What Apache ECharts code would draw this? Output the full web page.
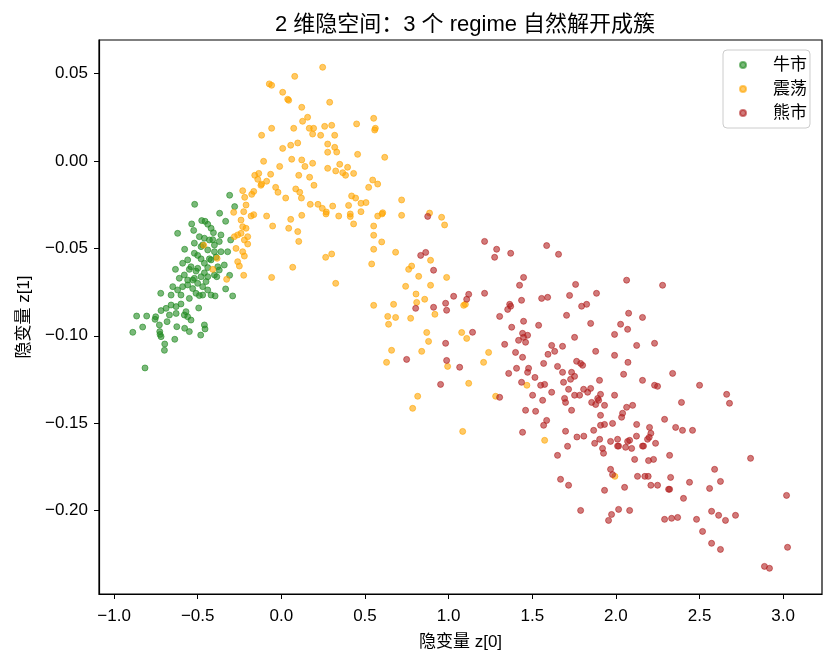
<!DOCTYPE html>
<html>
<head>
<meta charset="utf-8">
<script src="https://cdn.jsdelivr.net/npm/echarts@6/dist/echarts.min.js"></script>
<style>
html,body{margin:0;padding:0;background:#fff;}
#chart{width:834px;height:662px;}
</style>
</head>
<body>
<div id="chart"></div>
<script>
// ---- data ----
const seriesNames = ['牛市', '震荡', '熊市'];

const bullPoints = [
[-0.309,-0.0196],[-0.518,-0.0248],[-0.279,-0.0261],[-0.369,-0.0299],[-0.476,-0.0341],[-0.456,-0.0345],[-0.440,-0.0362],[-0.536,-0.0360],
[-0.524,-0.0397],[-0.420,-0.0385],[-0.406,-0.0410],[-0.333,-0.0345],[-0.620,-0.0414],[-0.361,-0.0423],[-0.303,-0.0452],[-0.490,-0.0433],
[-0.460,-0.0442],[-0.430,-0.0452],[-0.400,-0.0481],[-0.371,-0.0461],[-0.578,-0.0505],[-0.520,-0.0528],[-0.480,-0.0490],[-0.440,-0.0509],
[-0.400,-0.0519],[-0.361,-0.0519],[-0.321,-0.0519],[-0.590,-0.0585],[-0.560,-0.0566],[-0.540,-0.0605],[-0.500,-0.0614],[-0.460,-0.0585],
[-0.420,-0.0566],[-0.380,-0.0605],[-0.341,-0.0595],[-0.633,-0.0620],[-0.610,-0.0671],[-0.580,-0.0652],[-0.560,-0.0681],[-0.520,-0.0671],
[-0.480,-0.0662],[-0.440,-0.0662],[-0.400,-0.0652],[-0.371,-0.0624],[-0.386,-0.0662],[-0.309,-0.0654],[-0.649,-0.0719],[-0.620,-0.0738],
[-0.590,-0.0719],[-0.560,-0.0709],[-0.530,-0.0681],[-0.500,-0.0700],[-0.470,-0.0719],[-0.440,-0.0738],[-0.721,-0.0757],[-0.659,-0.0767],
[-0.600,-0.0767],[-0.550,-0.0786],[-0.510,-0.0757],[-0.470,-0.0767],[-0.420,-0.0767],[-0.396,-0.0772],[-0.291,-0.0772],[-0.333,-0.0732],
[-0.689,-0.0843],[-0.659,-0.0824],[-0.629,-0.0833],[-0.600,-0.0818],[-0.570,-0.0862],[-0.540,-0.0910],[-0.494,-0.0841],[-0.719,-0.0856],
[-0.669,-0.0881],[-0.629,-0.0872],[-0.580,-0.0881],[-0.560,-0.0891],[-0.865,-0.0887],[-0.805,-0.0887],[-0.751,-0.0891],[-0.755,-0.0906],
[-0.829,-0.0950],[-0.729,-0.0938],[-0.683,-0.0919],[-0.625,-0.0948],[-0.578,-0.0957],[-0.550,-0.0976],[-0.460,-0.0938],[-0.456,-0.0961],
[-0.482,-0.0996],[-0.888,-0.0980],[-0.727,-0.0976],[-0.725,-0.0992],[-0.719,-0.1005],[-0.637,-0.1020],[-0.697,-0.1047],[-0.699,-0.1083],
[-0.815,-0.1184],[-0.470,-0.0480],[-0.430,-0.0560],[-0.510,-0.0630],[-0.450,-0.0690],[-0.530,-0.0730],[-0.490,-0.0770],[-0.410,-0.0450],
[-0.550,-0.0620],[-0.440,-0.0610],[-0.480,-0.0560],[-0.520,-0.0470],[-0.390,-0.0550],[-0.500,-0.0540],[-0.460,-0.0640]
];

const rangePoints = [
[0.247,0.0536],[0.080,0.0484],[-0.072,0.0441],[-0.058,0.0433],[0.008,0.0393],[0.038,0.0353],[0.044,0.0347],[0.122,0.0307],[0.289,0.0336],
[0.157,0.0250],[0.127,0.0227],[-0.058,0.0187],[0.074,0.0187],[0.167,0.0187],[0.193,0.0187],[0.187,0.0154],[0.235,0.0147],[0.259,0.0198],
[0.301,0.0204],[0.319,0.0147],[0.450,0.0212],[0.552,0.0244],[0.562,0.0187],[0.558,0.0177],[-0.118,0.0147],[0.008,0.0072],[0.056,0.0090],
[0.098,0.0103],[0.277,0.0097],[0.319,0.0078],[0.331,0.0051],[0.277,0.0050],[0.456,0.0038],[0.618,0.0021],[-0.106,-0.0002],[0.062,0.0010],
[0.122,0.0006],[0.187,-0.0013],[0.141,-0.0031],[-0.010,-0.0031],[0.277,-0.0042],[0.349,-0.0019],[0.325,-0.0057],[0.367,-0.0067],
[0.384,-0.0082],[0.396,-0.0036],[0.432,-0.0071],[-0.135,-0.0071],[-0.159,-0.0082],[-0.141,-0.0105],[-0.064,-0.0076],[0.104,-0.0082],
[0.169,-0.0093],[-0.118,-0.0132],[-0.122,-0.0139],[-0.088,-0.0116],[0.195,-0.0139],[-0.034,-0.0151],[-0.020,-0.0179],[0.086,-0.0160],
[0.110,-0.0179],[0.546,-0.0109],[0.576,-0.0132],[0.522,-0.0151],[-0.231,-0.0170],[-0.165,-0.0174],[-0.177,-0.0191],[-0.219,-0.0208],
[0.026,-0.0212],[0.120,-0.0212],[0.420,-0.0200],[0.444,-0.0212],
[-0.211,-0.0252],[-0.225,-0.0290],[-0.285,-0.0294],[-0.181,-0.0315],[-0.165,-0.0307],[-0.088,-0.0315],[-0.052,-0.0372],[-0.241,-0.0338],
[-0.231,-0.0376],[-0.211,-0.0385],[-0.261,-0.0423],[-0.241,-0.0414],[-0.201,-0.0433],[-0.281,-0.0433],[-0.221,-0.0452],[-0.201,-0.0475],
[-0.464,-0.0482],[-0.271,-0.0500],[-0.231,-0.0519],[-0.221,-0.0544],[-0.384,-0.0557],[-0.261,-0.0576],[-0.251,-0.0601],[-0.410,-0.0620],
[-0.225,-0.0654],[-0.327,-0.0677],[-0.058,-0.0666],
[0.173,-0.0248],[0.219,-0.0248],[0.245,-0.0271],[0.307,-0.0258],[0.269,-0.0292],[0.267,-0.0303],[0.343,-0.0315],[0.402,-0.0254],
[0.412,-0.0303],[0.412,-0.0318],[0.432,-0.0360],[0.056,-0.0334],[0.044,-0.0385],[0.122,-0.0311],[0.098,-0.0404],[0.104,-0.0460],
[0.265,-0.0551],[0.301,-0.0532],[0.068,-0.0608],[0.325,-0.0700],
[0.476,-0.0242],[0.506,-0.0238],[0.476,-0.0290],[0.719,-0.0223],[0.576,-0.0315],[0.606,-0.0296],[0.602,-0.0303],[0.719,-0.0311],
[0.886,-0.0298],[0.958,-0.0322],[0.976,-0.0366],[0.552,-0.0372],[0.552,-0.0425],[0.600,-0.0463],[0.552,-0.0505],[0.683,-0.0522],
[0.540,-0.0589],[0.892,-0.0568],[0.779,-0.0601],[0.761,-0.0620],[0.821,-0.0660],[0.988,-0.0666],[0.743,-0.0717],[0.892,-0.0711],
[0.805,-0.0761],[0.857,-0.0791],[0.809,-0.0809],[0.552,-0.0826],[0.671,-0.0820],[1.090,-0.0826],[1.100,-0.0820],[0.918,-0.0877],
[0.636,-0.0889],[0.683,-0.0895],[0.641,-0.0934],[0.773,-0.0900],[0.869,-0.0981],[0.880,-0.1032],[1.078,-0.0981],[1.108,-0.1015],
[0.659,-0.1083],[0.839,-0.1089],[0.629,-0.1152],[1.239,-0.1095],[1.209,-0.1152],[0.994,-0.1175],[1.120,-0.1272],[0.815,-0.1346],
[0.785,-0.1415],[1.281,-0.1346],[1.084,-0.1547],[1.468,-0.1283],[1.574,-0.1598],[1.994,-0.1804]
];

const bearPoints = [
[0.875,-0.0317],[1.215,-0.0460],[1.287,-0.0505],[1.275,-0.0551],[1.371,-0.0528],[0.833,-0.0540],[0.863,-0.0523],[0.910,-0.0625],
[1.448,-0.0666],[1.424,-0.0711],[1.436,-0.0797],[1.030,-0.0774],[1.120,-0.0763],[1.108,-0.0791],[1.215,-0.0757],[0.982,-0.0814],
[0.988,-0.0854],[0.910,-0.0837],[0.803,-0.0843],[1.365,-0.0820],[1.371,-0.0831],[1.353,-0.0849],[1.305,-0.0889],[1.448,-0.0917],
[1.377,-0.0951],[1.143,-0.0980],[0.982,-0.1043],[1.442,-0.0986],[1.448,-0.1009],[1.418,-0.1026],[1.460,-0.1037],[1.472,-0.0997],
[1.335,-0.1049],[1.400,-0.1095],[1.442,-0.1123],[0.749,-0.1135],[0.988,-0.1141],[1.066,-0.1180],[1.406,-0.1186],[1.359,-0.1215],
[1.472,-0.1209],[1.478,-0.1186],[1.436,-0.1266],[0.952,-0.1278],[1.305,-0.1352],[1.460,-0.1426],[1.442,-0.1552],
[1.586,-0.0484],[1.657,-0.0534],[2.064,-0.0682],[1.759,-0.0706],[1.884,-0.0757],[1.723,-0.0769],[1.556,-0.0786],[1.592,-0.0780],
[1.795,-0.0831],[1.825,-0.0820],[2.076,-0.0871],[1.705,-0.0883],[1.538,-0.0940],[1.849,-0.0929],[2.028,-0.0934],[2.070,-0.0963],
[1.753,-0.1009],[1.992,-0.0992],[2.124,-0.1055],[1.616,-0.1055],[1.681,-0.1060],[1.594,-0.1106],[1.634,-0.1089],[1.879,-0.1089],
[1.992,-0.1112],[1.765,-0.1146],[1.789,-0.1158],[1.801,-0.1169],[1.568,-0.1158],[1.651,-0.1175],[1.516,-0.1238],[1.681,-0.1209],
[1.735,-0.1209],[1.753,-0.1232],[1.729,-0.1249],[2.072,-0.1152],[2.046,-0.1220],[1.574,-0.1278],[1.550,-0.1283],[1.687,-0.1266],
[1.902,-0.1255],[1.717,-0.1306],[1.807,-0.1306],[1.849,-0.1301],[1.831,-0.1323],[1.753,-0.1340],[1.783,-0.1340],[1.616,-0.1323],
[1.502,-0.1340],[1.908,-0.1335],[1.992,-0.1340],[1.693,-0.1358],[1.699,-0.1381],[1.562,-0.1369],[1.891,-0.1358],[1.897,-0.1369],
[1.855,-0.1381],[1.879,-0.1393],[1.932,-0.1398],[2.064,-0.1409],[2.100,-0.1398],[2.040,-0.1443],[2.034,-0.1466],[1.735,-0.1426],
[1.520,-0.1432],[1.908,-0.1455],[1.586,-0.1484],[1.568,-0.1512],[1.908,-0.1512],[1.932,-0.1507],[1.980,-0.1501],[2.124,-0.1507],
[2.279,-0.0711],[2.159,-0.0895],[2.231,-0.1043],[2.159,-0.1255],[2.339,-0.1215],[2.231,-0.1283],[2.249,-0.1289],[2.500,-0.1283],
[2.662,-0.1335],
[2.392,-0.1381],[2.679,-0.1386],[2.201,-0.1524],[2.291,-0.1478],[2.357,-0.1524],[2.398,-0.1541],[2.458,-0.1541],[1.699,-0.1546],
[1.767,-0.1579],[1.808,-0.1574],[1.867,-0.1541],[2.123,-0.1574],[2.209,-0.1558],[2.199,-0.1581],[2.189,-0.1592],[1.711,-0.1632],
[1.651,-0.1684],[1.873,-0.1615],[1.903,-0.1592],[1.968,-0.1604],[2.010,-0.1592],[2.070,-0.1604],[2.082,-0.1598],[2.010,-0.1631],
[2.016,-0.1631],[2.058,-0.1638],[2.094,-0.1644],[1.920,-0.1644],[1.926,-0.1672],[2.159,-0.1631],[2.165,-0.1631],[2.237,-0.1615],
[2.112,-0.1707],[2.195,-0.1714],[2.225,-0.1707],[2.321,-0.1684],[2.805,-0.1701],[2.590,-0.1764],[1.968,-0.1764],[1.980,-0.1794],
[2.129,-0.1804],[2.173,-0.1804],[2.193,-0.1804],[2.327,-0.1810],[2.625,-0.1833],[2.440,-0.1838],[1.669,-0.1821],[1.717,-0.1855],
[1.932,-0.1884],[2.052,-0.1867],[2.209,-0.1855],[2.249,-0.1855],[2.315,-0.1878],[2.321,-0.1878],[2.560,-0.1873],[2.404,-0.1930],
[3.020,-0.1913],[1.789,-0.1999],[2.016,-0.1993],[1.974,-0.2022],[1.956,-0.2056],[2.082,-0.1999],[2.291,-0.2050],[2.333,-0.2044],
[2.369,-0.2039],[2.482,-0.2050],[2.572,-0.2004],[2.614,-0.2027],[2.655,-0.2056],[2.715,-0.2027],[2.518,-0.2119],[2.572,-0.2187],
[2.625,-0.2222],[3.026,-0.2210],[2.888,-0.2319],[2.918,-0.2330]
];

const xTicks = [-1.0, -0.5, 0.0, 0.5, 1.0, 1.5, 2.0, 2.5, 3.0];
const yTicks = [-0.20, -0.15, -0.10, -0.05, 0.00, 0.05];
const xRange = [-1.09, 3.232];
const yRange = [-0.2477, 0.0692];

const titleText = '2 维隐空间：3 个 regime 自然解开成簇';
const xName = '隐变量 z[0]';
const yName = '隐变量 z[1]';

// ---- styling ----
const FONT = "'Liberation Sans', 'Noto Sans CJK SC', sans-serif";
const colors = ['rgba(34,139,34,0.6)', 'rgba(255,165,0,0.6)', 'rgba(178,34,34,0.6)'];
const fmtNum = (v, d) => (v < -1e-9 ? '\u2212' : '') + Math.abs(v).toFixed(d);

const chart = echarts.init(document.getElementById('chart'), null, {renderer: 'canvas'});

const pointSets = [bullPoints, rangePoints, bearPoints];
const series = pointSets.map((pts, i) => ({
  name: seriesNames[i],
  type: 'scatter',
  data: pts,
  symbol: 'circle',
  symbolSize: 6,
  itemStyle: { color: colors[i], borderColor: colors[i], borderWidth: 1, opacity: 1 },
  emphasis: { disabled: true },
  z: 2 + i
}));

chart.setOption({
  animation: false,
  backgroundColor: '#fff',
  textStyle: { fontFamily: FONT },
  title: {
    text: titleText,
    left: 460,
    textAlign: 'center',
    top: 9,
    textStyle: { fontFamily: FONT, fontSize: 22, fontWeight: 'normal', color: '#000' }
  },
  legend: {
    data: seriesNames,
    orient: 'vertical',
    left: 723,
    top: 50,
    padding: [6, 3, 6, 16],
    itemGap: 6,
    itemWidth: 12,
    itemHeight: 6,
    icon: 'circle',
    borderColor: '#cccccc',
    borderWidth: 1,
    borderRadius: 4,
    backgroundColor: 'rgba(255,255,255,0.8)',
    textStyle: { fontFamily: FONT, fontSize: 17, color: '#000', lineHeight: 18, padding: [0, 0, 0, 19] }
  },
  grid: {
    left: 99, right: 12, top: 40, bottom: 68,
    containLabel: false,
    outerBoundsMode: 'none',
    show: true,
    borderColor: '#000',
    borderWidth: 1.2,
    backgroundColor: 'transparent'
  },
  xAxis: {
    type: 'value',
    min: xRange[0], max: xRange[1],
    name: xName,
    nameLocation: 'middle',
    nameGap: 40,
    nameTextStyle: { fontFamily: FONT, fontSize: 17, color: '#000' },
    axisLine: { show: true, onZero: false, lineStyle: { color: '#000', width: 1.2 } },
    axisTick: { show: true, inside: false, length: 5, customValues: xTicks, lineStyle: { color: '#000', width: 1 } },
    axisLabel: { show: true, margin: 14, customValues: xTicks, fontFamily: FONT, fontSize: 17, color: '#000',
                 formatter: v => fmtNum(v, 1) },
    splitLine: { show: false }
  },
  yAxis: {
    type: 'value',
    min: yRange[0], max: yRange[1],
    name: yName,
    nameLocation: 'middle',
    nameGap: 66,
    nameRotate: 90,
    nameTextStyle: { fontFamily: FONT, fontSize: 17, color: '#000' },
    axisLine: { show: true, onZero: false, lineStyle: { color: '#000', width: 1.2 } },
    axisTick: { show: true, inside: false, length: 5, customValues: yTicks, lineStyle: { color: '#000', width: 1 } },
    axisLabel: { show: true, margin: 11, customValues: yTicks, fontFamily: FONT, fontSize: 17, color: '#000',
                 formatter: v => fmtNum(v, 2) },
    splitLine: { show: false }
  },
  series: series
});
</script>
</body>
</html>
